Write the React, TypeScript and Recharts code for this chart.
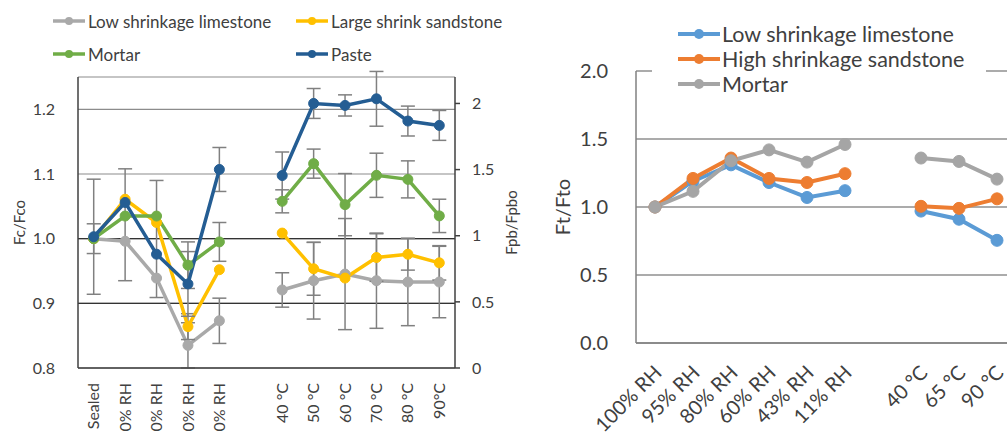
import React from "react";
import {
  CartesianGrid,
  ErrorBar,
  Legend,
  Line,
  LineChart,
  ReferenceLine,
  XAxis,
  YAxis,
} from "recharts";

// ---- left chart: Fc/Fco (humidity, left axis) and Fpb/Fpbo (temperature, right axis)
const leftCategories = [
  "Sealed",
  "100% RH",
  "80% RH",
  "60% RH",
  "40% RH",
  "",
  "40 °C",
  "50 °C",
  "60 °C",
  "70 °C",
  "80 °C",
  "90°C",
];

const N = null;
const limestoneFc = [1.0, 0.996, 0.939, 0.835, 0.873, N, N, N, N, N, N, N];
const sandstoneFc = [1.0, 1.061, 1.025, 0.864, 0.952, N, N, N, N, N, N, N];
const mortarFc = [1.0, 1.035, 1.035, 0.959, 0.995, N, N, N, N, N, N, N];
const pasteFc = [1.003, 1.056, 0.976, 0.93, 1.107, N, N, N, N, N, N, N];

const limestoneFpb = [N, N, N, N, N, N, 0.59, 0.66, 0.71, 0.66, 0.65, 0.65];
const sandstoneFpb = [N, N, N, N, N, N, 1.02, 0.75, 0.68, 0.835, 0.86, 0.795];
const mortarFpb = [N, N, N, N, N, N, 1.26, 1.545, 1.235, 1.457, 1.426, 1.15];
const pasteFpb = [N, N, N, N, N, N, 1.455, 2.0, 1.985, 2.035, 1.867, 1.834];

// error bars: a number is +/-, a pair is [below, above]
const limestoneFcErr = [N, N, N, 0.035, 0.035, N, N, N, N, N, N, N];
const sandstoneFcErr = [N, N, N, 0.02, N, N, N, N, N, N, N, N];
const mortarFcErr = [0.023, [0.1, 0.073], [0.126, 0.055], 0.036, 0.03, N, N, N, N, N, N, N];
const pasteFcErr = [0.089, N, N, 0.05, 0.034, N, N, N, N, N, N, N];

const limestoneFpbErr = [N, N, N, N, N, N, 0.13, 0.29, 0.42, 0.36, 0.33, 0.27];
const sandstoneFpbErr = [N, N, N, N, N, N, N, 0.2, N, 0.18, 0.12, 0.13];
const mortarFpbErr = [N, N, N, N, N, N, 0.087, 0.11, 0.235, 0.167, 0.14, 0.126];
const pasteFpbErr = [N, N, N, N, N, N, 0.178, 0.113, 0.08, 0.207, 0.113, 0.113];

const fcTicks = [0.8, 0.9, 1.0, 1.1, 1.2];
const fpbTicks = [0, 0.5, 1, 1.5, 2];

// ---- right chart: Ft/Fto
const rightCategories = [
  "100% RH",
  "95% RH",
  "80% RH",
  "60% RH",
  "43% RH",
  "11% RH",
  "",
  "40 °C",
  "65 °C",
  "90 °C",
];
const limestoneFt = [1.0, 1.19, 1.31, 1.18, 1.07, 1.12, N, 0.97, 0.91, 0.755];
const sandstoneFt = [1.0, 1.21, 1.36, 1.21, 1.18, 1.245, N, 1.005, 0.99, 1.06];
const mortarFt = [1.0, 1.115, 1.34, 1.42, 1.33, 1.46, N, 1.36, 1.335, 1.205];
const ftTicks = [0, 0.5, 1, 1.5, 2];

const leftData = leftCategories.map((cat, i) => ({
  cat,
  limestoneFc: limestoneFc[i],
  sandstoneFc: sandstoneFc[i],
  mortarFc: mortarFc[i],
  pasteFc: pasteFc[i],
  limestoneFpb: limestoneFpb[i],
  sandstoneFpb: sandstoneFpb[i],
  mortarFpb: mortarFpb[i],
  pasteFpb: pasteFpb[i],
  limestoneFcErr: limestoneFcErr[i],
  sandstoneFcErr: sandstoneFcErr[i],
  mortarFcErr: mortarFcErr[i],
  pasteFcErr: pasteFcErr[i],
  limestoneFpbErr: limestoneFpbErr[i],
  sandstoneFpbErr: sandstoneFpbErr[i],
  mortarFpbErr: mortarFpbErr[i],
  pasteFpbErr: pasteFpbErr[i],
}));

const rightData = rightCategories.map((cat, i) => ({
  cat,
  limestoneFt: limestoneFt[i],
  sandstoneFt: sandstoneFt[i],
  mortarFt: mortarFt[i],
}));

const FONT = "Lato, 'Open Sans', sans-serif";
const TEXT = "#404040";
const ERR = "#808080";

const LeftSeries = [
  { key: "limestone", name: "Low shrinkage limestone", color: "#A9A9A9" },
  { key: "sandstone", name: "Large shrink sandstone", color: "#FFC000" },
  { key: "mortar", name: "Mortar", color: "#70AD47" },
  { key: "paste", name: "Paste", color: "#245D93" },
];

const RightSeries = [
  { key: "limestoneFt", name: "Low shrinkage limestone", color: "#5B9BD5" },
  { key: "sandstoneFt", name: "High shrinkage sandstone", color: "#ED7D31" },
  { key: "mortarFt", name: "Mortar", color: "#A5A5A5" },
];

// keep the legend in series order (Recharts sorts it by name otherwise)
function inSeriesOrder(payload: any[], series: { name: string }[]) {
  const items = (payload || []).filter((p: any) => p.type !== "none");
  return series
    .map((s) => items.find((p: any) => p.value === s.name))
    .filter(Boolean);
}

function LegendIcon({ color, w, sw, r }: { color: string; w: number; sw: number; r: number }) {
  return (
    <svg width={w} height={12} style={{ display: "block", flex: "none" }}>
      <line x1={0} y1={6} x2={w} y2={6} stroke={color} strokeWidth={sw} />
      <circle cx={w / 2} cy={6} r={r} fill={color} />
    </svg>
  );
}

function LeftLegend({ payload }: any) {
  const items = inSeriesOrder(payload, LeftSeries);
  return (
    <div
      style={{
        display: "grid",
        gridTemplateColumns: "243px 243px",
        rowGap: 11,
        fontFamily: FONT,
        fontSize: 17,
        color: TEXT,
      }}
    >
      {items.map((p: any) => (
        <div key={p.value} style={{ display: "flex", alignItems: "center", height: 22, whiteSpace: "nowrap" }}>
          <LegendIcon color={p.color} w={32} sw={3.5} r={4} />
          <span style={{ marginLeft: 3 }}>{p.value}</span>
        </div>
      ))}
    </div>
  );
}

function RightLegend({ payload }: any) {
  const items = inSeriesOrder(payload, RightSeries);
  return (
    <div
      style={{
        background: "#fff",
        padding: "1px 0 1px 26px",
        fontFamily: FONT,
        fontSize: 21.5,
        color: TEXT,
      }}
    >
      {items.map((p: any) => (
        <div key={p.value} style={{ display: "flex", alignItems: "center", height: 25, whiteSpace: "nowrap" }}>
          <LegendIcon color={p.color} w={42} sw={4} r={5} />
          <span style={{ marginLeft: 2 }}>{p.value}</span>
        </div>
      ))}
    </div>
  );
}

function LeftTick({ x, y, payload }: any) {
  return (
    <g transform={`translate(${x},${y})`}>
      <text
        transform="rotate(-90)"
        x={-15}
        y={0}
        dy="0.35em"
        textAnchor="end"
        fontSize={16}
        fontFamily={FONT}
        fill={TEXT}
      >
        {payload.value}
      </text>
    </g>
  );
}

function RightTick({ x, y, payload }: any) {
  return (
    <g transform={`translate(${x + 3},${y + 26})`}>
      <text
        transform="rotate(-45)"
        x={0}
        y={0}
        dy="0.35em"
        textAnchor="end"
        fontSize={20}
        fontFamily={FONT}
        fill={TEXT}
      >
        {payload.value}
      </text>
    </g>
  );
}

function axisTitle(value: string, dx: number, fontSize: number, fallback: { x: number; y: number; height: number }) {
  return (props: any) => {
    const vb = props && props.viewBox ? props.viewBox : fallback;
    const cx = vb.x + dx;
    const cy = vb.y + vb.height / 2;
    return (
      <text
        x={cx}
        y={cy}
        transform={`rotate(-90, ${cx}, ${cy})`}
        textAnchor="middle"
        dominantBaseline="central"
        fontSize={fontSize}
        fontFamily={FONT}
        fill={TEXT}
      >
        {value}
      </text>
    );
  };
}

function FcChart() {
  return (
    <LineChart
      width={525}
      height={470}
      data={leftData}
      margin={{ top: 77, right: 0, bottom: 0, left: 0 }}
      style={{ fontFamily: FONT }}
    >
      <CartesianGrid vertical={false} stroke="#8c8c8c" strokeWidth={1.2} />
      <ReferenceLine y={1.0} stroke="#333" strokeWidth={1.2} />
      <ReferenceLine y={0.9} stroke="#333" strokeWidth={1.2} />
      <XAxis
        dataKey="cat"
        interval={0}
        padding={{ left: 15.7, right: 15.7 }}
        tickLine={false}
        tickSize={0}
        tickMargin={0}
        height={102}
        axisLine={{ stroke: TEXT, strokeWidth: 1.5 }}
        tick={<LeftTick />}
      />
      <XAxis
        xAxisId="top"
        orientation="top"
        dataKey="cat"
        height={0}
        tick={false}
        tickLine={false}
        axisLine={{ stroke: TEXT, strokeWidth: 1.5 }}
      />
      <YAxis
        width={78}
        domain={[0.8, 1.25]}
        ticks={fcTicks}
        allowDataOverflow
        tickFormatter={(v: number) => v.toFixed(1)}
        tickLine={false}
        tickSize={0}
        tickMargin={23}
        axisLine={{ stroke: TEXT, strokeWidth: 1.5 }}
        tick={{ fontSize: 16, fill: TEXT, fontFamily: FONT }}
        label={axisTitle("Fc/Fco", 18.5, 15, { x: 0, y: 77, height: 291 })}
      />
      <YAxis
        yAxisId="r"
        orientation="right"
        width={70}
        domain={[0, 2.2]}
        ticks={fpbTicks}
        allowDataOverflow
        tickLine={{ stroke: TEXT, strokeWidth: 1.5 }}
        tickSize={5}
        tickMargin={12}
        axisLine={{ stroke: TEXT, strokeWidth: 1.5 }}
        tick={{ fontSize: 16, fill: TEXT, fontFamily: FONT }}
        label={axisTitle("Fpb/Fpbo", 56, 15, { x: 455, y: 77, height: 291 })}
      />
      <Legend
        layout="vertical"
        align="center"
        verticalAlign="middle"
        wrapperStyle={{ left: 53, top: 10, width: 486 }}
        content={(p: any) => <LeftLegend payload={p.payload} />}
      />
      {LeftSeries.map((s) => (
        <Line
          key={s.key + "Fc"}
          dataKey={s.key + "Fc"}
          name={s.name}
          stroke={s.color}
          strokeWidth={3.5}
          dot={{ r: 5, fill: s.color, stroke: s.color, strokeWidth: 1 }}
          activeDot={false}
          isAnimationActive={false}
        >
          <ErrorBar dataKey={s.key + "FcErr"} direction="y" width={7} stroke={ERR} strokeWidth={1.5} />
        </Line>
      ))}
      {LeftSeries.map((s) => (
        <Line
          key={s.key + "Fpb"}
          yAxisId="r"
          dataKey={s.key + "Fpb"}
          name={s.name + " "}
          legendType="none"
          stroke={s.color}
          strokeWidth={3.5}
          dot={{ r: 5, fill: s.color, stroke: s.color, strokeWidth: 1 }}
          activeDot={false}
          isAnimationActive={false}
        >
          <ErrorBar dataKey={s.key + "FpbErr"} direction="y" width={7} stroke={ERR} strokeWidth={1.5} />
        </Line>
      ))}
    </LineChart>
  );
}

function FtChart() {
  return (
    <LineChart
      width={476}
      height={432}
      data={rightData}
      margin={{ top: 71, right: 0, bottom: 0, left: 0 }}
      style={{ fontFamily: FONT }}
    >
      <CartesianGrid vertical={false} stroke="#595959" strokeWidth={1.2} />
      <XAxis
        dataKey="cat"
        interval={0}
        padding={{ left: 19, right: 19 }}
        tickLine={false}
        tickSize={0}
        tickMargin={0}
        height={89}
        axisLine={{ stroke: "#808080", strokeWidth: 1.5 }}
        tick={<RightTick />}
      />
      <YAxis
        width={96}
        domain={[0, 2]}
        ticks={ftTicks}
        allowDataOverflow
        tickFormatter={(v: number) => v.toFixed(1)}
        tickLine={false}
        tickSize={0}
        tickMargin={28}
        axisLine={{ stroke: "#808080", strokeWidth: 1.5 }}
        tick={{ fontSize: 20, fill: TEXT, fontFamily: FONT }}
        label={axisTitle("Ft/Fto", 21.7, 20, { x: 0, y: 71, height: 272 })}
      />
      <Legend
        layout="vertical"
        align="center"
        verticalAlign="middle"
        wrapperStyle={{ left: 112, top: 20, width: 334 }}
        content={(p: any) => <RightLegend payload={p.payload} />}
      />
      {RightSeries.map((s) => (
        <Line
          key={s.key}
          dataKey={s.key}
          name={s.name}
          stroke={s.color}
          strokeWidth={4}
          dot={{ r: 6, fill: s.color, stroke: s.color, strokeWidth: 1 }}
          activeDot={false}
          isAnimationActive={false}
        />
      ))}
    </LineChart>
  );
}

export default function App() {
  return (
    <div
      style={{
        position: "absolute",
        left: 0,
        top: 0,
        width: 1007,
        height: 432,
        overflow: "hidden",
        background: "#fff",
        fontFamily: FONT,
      }}
    >
      <div style={{ position: "absolute", left: 0, top: 0 }}>
        <FcChart />
      </div>
      <div style={{ position: "absolute", left: 540, top: 0 }}>
        <FtChart />
      </div>
    </div>
  );
}
